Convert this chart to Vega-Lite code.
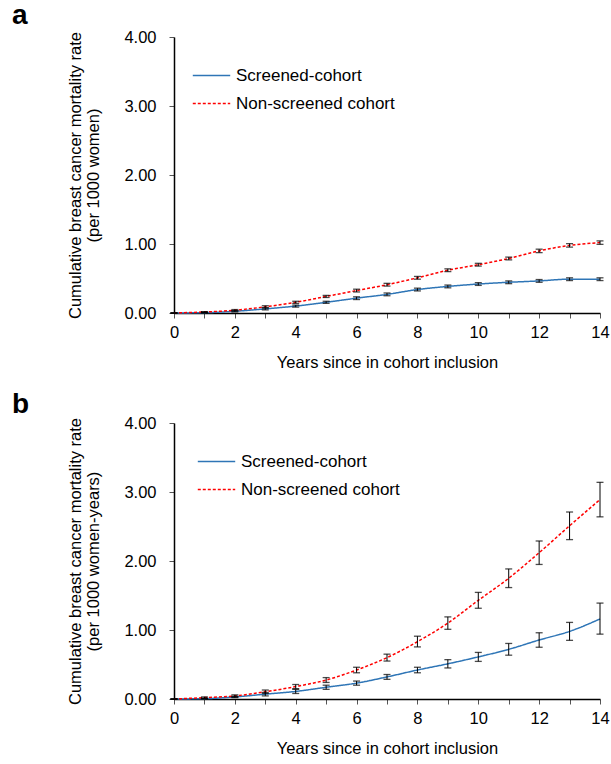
{
  "$schema": "https://vega.github.io/schema/vega-lite/v6.json",
  "autosize": {"type": "pad"},
  "padding": {"left": 12, "top": 2, "right": 5, "bottom": 5},
  "background": "white",
  "config": {
    "font": "Liberation Sans",
    "view": {"stroke": null},
    "axis": {"grid": false, "labelFlush": false, "domainColor": "black", "domainWidth": 1.5, "tickColor": "#555", "tickSize": 5, "labelFont": "Liberation Sans", "labelFontSize": 16.5, "labelColor": "black", "titleFont": "Liberation Sans", "titleFontSize": 16.5, "titleFontWeight": "normal", "titleColor": "black"},
    "legend": {"labelFont": "Liberation Sans", "labelFontSize": 17, "labelColor": "black"},
    "title": {"font": "Liberation Sans", "fontSize": 28, "fontWeight": "bold", "color": "black", "anchor": "start", "frame": "group"}
  },
  "bounds": "flush",
  "spacing": 110,
  "datasets": {
    "a": [
      {"year": 0, "series": "Screened-cohort", "value": 0, "lo": 0, "hi": 0},
      {"year": 1, "series": "Screened-cohort", "value": 0.005, "lo": 0.0, "hi": 0.01},
      {"year": 2, "series": "Screened-cohort", "value": 0.025, "lo": 0.015, "hi": 0.035},
      {"year": 3, "series": "Screened-cohort", "value": 0.06, "lo": 0.045, "hi": 0.075},
      {"year": 4, "series": "Screened-cohort", "value": 0.1, "lo": 0.085, "hi": 0.115},
      {"year": 5, "series": "Screened-cohort", "value": 0.155, "lo": 0.14, "hi": 0.17},
      {"year": 6, "series": "Screened-cohort", "value": 0.215, "lo": 0.195, "hi": 0.235},
      {"year": 7, "series": "Screened-cohort", "value": 0.27, "lo": 0.25, "hi": 0.29},
      {"year": 8, "series": "Screened-cohort", "value": 0.34, "lo": 0.32, "hi": 0.36},
      {"year": 9, "series": "Screened-cohort", "value": 0.385, "lo": 0.365, "hi": 0.405},
      {"year": 10, "series": "Screened-cohort", "value": 0.42, "lo": 0.4, "hi": 0.44},
      {"year": 11, "series": "Screened-cohort", "value": 0.445, "lo": 0.425, "hi": 0.465},
      {"year": 12, "series": "Screened-cohort", "value": 0.465, "lo": 0.445, "hi": 0.485},
      {"year": 13, "series": "Screened-cohort", "value": 0.49, "lo": 0.47, "hi": 0.51},
      {"year": 14, "series": "Screened-cohort", "value": 0.49, "lo": 0.47, "hi": 0.51},
      {"year": 0, "series": "Non-screened cohort", "value": 0, "lo": 0, "hi": 0},
      {"year": 1, "series": "Non-screened cohort", "value": 0.015, "lo": 0.01, "hi": 0.02},
      {"year": 2, "series": "Non-screened cohort", "value": 0.04, "lo": 0.03, "hi": 0.05},
      {"year": 3, "series": "Non-screened cohort", "value": 0.09, "lo": 0.075, "hi": 0.105},
      {"year": 4, "series": "Non-screened cohort", "value": 0.155, "lo": 0.14, "hi": 0.17},
      {"year": 5, "series": "Non-screened cohort", "value": 0.24, "lo": 0.225, "hi": 0.255},
      {"year": 6, "series": "Non-screened cohort", "value": 0.325, "lo": 0.305, "hi": 0.345},
      {"year": 7, "series": "Non-screened cohort", "value": 0.41, "lo": 0.39, "hi": 0.43},
      {"year": 8, "series": "Non-screened cohort", "value": 0.51, "lo": 0.49, "hi": 0.53},
      {"year": 9, "series": "Non-screened cohort", "value": 0.62, "lo": 0.6, "hi": 0.64},
      {"year": 10, "series": "Non-screened cohort", "value": 0.7, "lo": 0.68, "hi": 0.72},
      {"year": 11, "series": "Non-screened cohort", "value": 0.79, "lo": 0.77, "hi": 0.81},
      {"year": 12, "series": "Non-screened cohort", "value": 0.9, "lo": 0.875, "hi": 0.925},
      {"year": 13, "series": "Non-screened cohort", "value": 0.98, "lo": 0.955, "hi": 1.005},
      {"year": 14, "series": "Non-screened cohort", "value": 1.02, "lo": 0.995, "hi": 1.045}
    ],
    "b": [
      {"year": 0, "series": "Screened-cohort", "value": 0, "lo": 0, "hi": 0},
      {"year": 1, "series": "Screened-cohort", "value": 0.005, "lo": 0.0, "hi": 0.01},
      {"year": 2, "series": "Screened-cohort", "value": 0.03, "lo": 0.02, "hi": 0.04},
      {"year": 3, "series": "Screened-cohort", "value": 0.07, "lo": 0.045, "hi": 0.095},
      {"year": 4, "series": "Screened-cohort", "value": 0.11, "lo": 0.08, "hi": 0.14},
      {"year": 5, "series": "Screened-cohort", "value": 0.17, "lo": 0.14, "hi": 0.2},
      {"year": 6, "series": "Screened-cohort", "value": 0.23, "lo": 0.2, "hi": 0.26},
      {"year": 7, "series": "Screened-cohort", "value": 0.32, "lo": 0.285, "hi": 0.355},
      {"year": 8, "series": "Screened-cohort", "value": 0.42, "lo": 0.38, "hi": 0.46},
      {"year": 9, "series": "Screened-cohort", "value": 0.51, "lo": 0.45, "hi": 0.57},
      {"year": 10, "series": "Screened-cohort", "value": 0.61, "lo": 0.545, "hi": 0.675},
      {"year": 11, "series": "Screened-cohort", "value": 0.72, "lo": 0.635, "hi": 0.805},
      {"year": 12, "series": "Screened-cohort", "value": 0.855, "lo": 0.75, "hi": 0.96},
      {"year": 13, "series": "Screened-cohort", "value": 0.98, "lo": 0.85, "hi": 1.11},
      {"year": 14, "series": "Screened-cohort", "value": 1.16, "lo": 0.94, "hi": 1.39},
      {"year": 0, "series": "Non-screened cohort", "value": 0, "lo": 0, "hi": 0},
      {"year": 1, "series": "Non-screened cohort", "value": 0.02, "lo": 0.01, "hi": 0.03},
      {"year": 2, "series": "Non-screened cohort", "value": 0.045, "lo": 0.03, "hi": 0.06},
      {"year": 3, "series": "Non-screened cohort", "value": 0.105, "lo": 0.08, "hi": 0.13},
      {"year": 4, "series": "Non-screened cohort", "value": 0.18, "lo": 0.15, "hi": 0.21},
      {"year": 5, "series": "Non-screened cohort", "value": 0.275, "lo": 0.24, "hi": 0.31},
      {"year": 6, "series": "Non-screened cohort", "value": 0.42, "lo": 0.38, "hi": 0.46},
      {"year": 7, "series": "Non-screened cohort", "value": 0.6, "lo": 0.55, "hi": 0.65},
      {"year": 8, "series": "Non-screened cohort", "value": 0.83, "lo": 0.755, "hi": 0.91},
      {"year": 9, "series": "Non-screened cohort", "value": 1.1, "lo": 1.01, "hi": 1.19},
      {"year": 10, "series": "Non-screened cohort", "value": 1.43, "lo": 1.315, "hi": 1.545},
      {"year": 11, "series": "Non-screened cohort", "value": 1.75, "lo": 1.615, "hi": 1.885},
      {"year": 12, "series": "Non-screened cohort", "value": 2.12, "lo": 1.95, "hi": 2.29},
      {"year": 13, "series": "Non-screened cohort", "value": 2.51, "lo": 2.31, "hi": 2.71},
      {"year": 14, "series": "Non-screened cohort", "value": 2.89, "lo": 2.64, "hi": 3.14}
    ]
  },
  "vconcat": [
    {
      "width": 426,
      "height": 276,
      "title": {"text": "a", "dx": -162, "dy": 1, "offset": 0},
      "data": {"name": "a"},
      "encoding": {
        "x": {"field": "year", "type": "quantitative", "scale": {"domain": [0, 14], "nice": false}, "axis": {"values": [0,1,2,3,4,5,6,7,8,9,10,11,12,13,14], "labelExpr": "datum.value % 2 == 0 ? datum.label : ''", "title": "Years since in cohort inclusion", "labelPadding": 6, "titlePadding": 14}}
      },
      "layer": [
        {
          "mark": {"type": "line", "interpolate": "monotone", "strokeWidth": 1.5},
          "encoding": {
            "y": {"field": "value", "type": "quantitative", "scale": {"domain": [0, 4]}, "axis": {"values": [0,1,2,3,4], "format": ".2f", "labelPadding": 13, "title": ["Cumulative breast cancer mortality rate", "(per 1000 women)"], "titlePadding": 22}},
            "color": {"field": "series", "type": "nominal", "scale": {"domain": ["Screened-cohort", "Non-screened cohort"], "range": ["#2E75B6", "#FF0000"]}, "legend": {"title": null, "orient": "none", "legendX": 18, "legendY": 19, "symbolType": "stroke", "symbolSize": 1400, "symbolStrokeWidth": 1.5, "rowPadding": -14, "labelOffset": 5}},
            "strokeDash": {"field": "series", "type": "nominal", "scale": {"domain": ["Screened-cohort", "Non-screened cohort"], "range": [[1, 0], [3, 2]]}, "legend": {"title": null, "orient": "none", "legendX": 18, "legendY": 19, "symbolType": "stroke", "symbolSize": 1400, "symbolStrokeWidth": 1.5, "rowPadding": -14, "labelOffset": 5}}
          }
        },
        {
          "mark": {"type": "rule", "color": "black", "strokeWidth": 1},
          "encoding": {"y": {"field": "lo", "type": "quantitative"}, "y2": {"field": "hi"}}
        },
        {
          "mark": {"type": "tick", "color": "black", "size": 7, "thickness": 1.3, "orient": "horizontal"},
          "encoding": {"y": {"field": "lo", "type": "quantitative"}}
        },
        {
          "mark": {"type": "tick", "color": "black", "size": 7, "thickness": 1.3, "orient": "horizontal"},
          "encoding": {"y": {"field": "hi", "type": "quantitative"}}
        }
      ]
    },
    {
      "width": 426,
      "height": 276,
      "title": {"text": "b", "dx": -162, "dy": 4, "offset": 0},
      "data": {"name": "b"},
      "encoding": {
        "x": {"field": "year", "type": "quantitative", "scale": {"domain": [0, 14], "nice": false}, "axis": {"values": [0,1,2,3,4,5,6,7,8,9,10,11,12,13,14], "labelExpr": "datum.value % 2 == 0 ? datum.label : ''", "title": "Years since in cohort inclusion", "labelPadding": 6, "titlePadding": 14}}
      },
      "layer": [
        {
          "mark": {"type": "line", "interpolate": "monotone", "strokeWidth": 1.5},
          "encoding": {
            "y": {"field": "value", "type": "quantitative", "scale": {"domain": [0, 4]}, "axis": {"values": [0,1,2,3,4], "format": ".2f", "labelPadding": 13, "title": ["Cumulative breast cancer mortality rate", "(per 1000 women-years)"], "titlePadding": 22}},
            "color": {"field": "series", "type": "nominal", "scale": {"domain": ["Screened-cohort", "Non-screened cohort"], "range": ["#2E75B6", "#FF0000"]}, "legend": {"title": null, "orient": "none", "legendX": 23, "legendY": 19, "symbolType": "stroke", "symbolSize": 1400, "symbolStrokeWidth": 1.5, "rowPadding": -6, "labelOffset": 5}},
            "strokeDash": {"field": "series", "type": "nominal", "scale": {"domain": ["Screened-cohort", "Non-screened cohort"], "range": [[1, 0], [3, 2]]}, "legend": {"title": null, "orient": "none", "legendX": 23, "legendY": 19, "symbolType": "stroke", "symbolSize": 1400, "symbolStrokeWidth": 1.5, "rowPadding": -6, "labelOffset": 5}}
          }
        },
        {
          "mark": {"type": "rule", "color": "black", "strokeWidth": 1},
          "encoding": {"y": {"field": "lo", "type": "quantitative"}, "y2": {"field": "hi"}}
        },
        {
          "mark": {"type": "tick", "color": "black", "size": 7, "thickness": 1.3, "orient": "horizontal"},
          "encoding": {"y": {"field": "lo", "type": "quantitative"}}
        },
        {
          "mark": {"type": "tick", "color": "black", "size": 7, "thickness": 1.3, "orient": "horizontal"},
          "encoding": {"y": {"field": "hi", "type": "quantitative"}}
        }
      ]
    }
  ],
  "resolve": {"scale": {"color": "independent", "strokeDash": "independent"}, "legend": {"color": "independent", "strokeDash": "independent"}}
}
